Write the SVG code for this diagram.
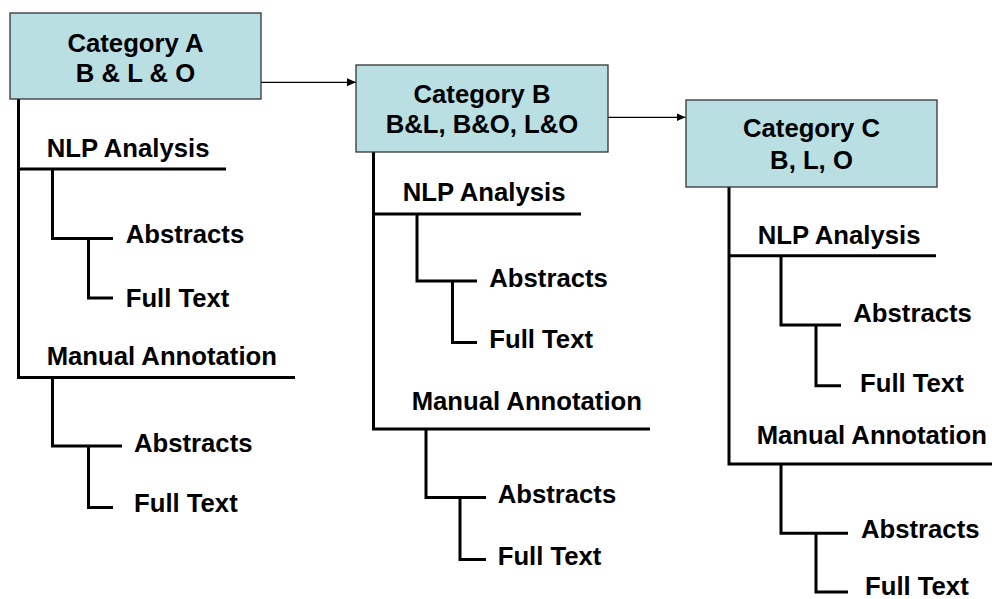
<svg xmlns="http://www.w3.org/2000/svg" width="992" height="599" viewBox="0 0 992 599">
<style>
.box{fill:#B9DFE3;stroke:#333;stroke-width:1.3}
.t{font-family:"Liberation Sans",Arial,sans-serif;font-weight:bold;font-size:25.7px;fill:#000}
.c{text-anchor:middle}
.tree{fill:none;stroke:#000;stroke-width:3;stroke-linejoin:miter}
.arr{fill:none;stroke:#000;stroke-width:1.2}
</style>
<defs>
<marker id="ah" markerWidth="10" markerHeight="9" refX="9" refY="4.5" orient="auto" markerUnits="userSpaceOnUse">
<path d="M0 0.5 L9 4.5 L0 8.5 Z" fill="#000"/>
</marker>
</defs>
<rect width="992" height="599" fill="#fff"/>
<g id="connectors">
<path class="arr" d="M261 82.3 H356" marker-end="url(#ah)"/>
<path class="arr" d="M608 117.3 H685.5" marker-end="url(#ah)"/>
<path class="tree" d="M18.5 99 V377.5 H295"/>
<path class="tree" d="M18.5 169 H226"/>
<path class="tree" d="M52.5 169 V238.5 H113"/>
<path class="tree" d="M88.5 238.5 V298 H113"/>
<path class="tree" d="M52.5 377.5 V446 H122"/>
<path class="tree" d="M88.5 446 V507.5 H113"/>
<path class="tree" d="M373.5 152 V429 H650"/>
<path class="tree" d="M373.5 214 H581"/>
<path class="tree" d="M417 214 V281 H477"/>
<path class="tree" d="M452.5 281 V342.5 H477"/>
<path class="tree" d="M426 429 V497.5 H486"/>
<path class="tree" d="M460 497.5 V559.5 H486"/>
<path class="tree" d="M729 187 V464 H992"/>
<path class="tree" d="M729 255.7 H936"/>
<path class="tree" d="M781 255.7 V325 H841"/>
<path class="tree" d="M816 325 V385.7 H841"/>
<path class="tree" d="M781 464 V533.3 H848"/>
<path class="tree" d="M816 533.3 V592 H848"/>
</g>
<g id="catA">
<rect class="box" x="10" y="13" width="251" height="86"/>
<text class="t c" x="135.5" y="52">Category A</text>
<text class="t c" x="135.5" y="82">B &amp; L &amp; O</text>
</g>
<g id="catB">
<rect class="box" x="356" y="65" width="252" height="87"/>
<text class="t c" x="482" y="102.7">Category B</text>
<text class="t c" x="482" y="132.7">B&amp;L, B&amp;O, L&amp;O</text>
</g>
<g id="catC">
<rect class="box" x="686" y="100" width="251" height="87"/>
<text class="t c" x="811.5" y="137.3">Category C</text>
<text class="t c" x="811.5" y="169">B, L, O</text>
</g>
<g id="A-nlp"><text class="t" x="46.7" y="156.7">NLP Analysis</text></g>
<g id="A-nlp-abs"><text class="t" x="125.7" y="243.3">Abstracts</text></g>
<g id="A-nlp-full"><text class="t" x="125.7" y="306.7">Full Text</text></g>
<g id="A-man"><text class="t" x="46.7" y="365">Manual Annotation</text></g>
<g id="A-man-abs"><text class="t" x="134" y="451.7">Abstracts</text></g>
<g id="A-man-full"><text class="t" x="134" y="511.7">Full Text</text></g>
<g id="B-nlp"><text class="t" x="402.7" y="200.7">NLP Analysis</text></g>
<g id="B-nlp-abs"><text class="t" x="489.3" y="286.7">Abstracts</text></g>
<g id="B-nlp-full"><text class="t" x="489.3" y="348.3">Full Text</text></g>
<g id="B-man"><text class="t" x="411.7" y="410">Manual Annotation</text></g>
<g id="B-man-abs"><text class="t" x="497.7" y="503.3">Abstracts</text></g>
<g id="B-man-full"><text class="t" x="497.7" y="565">Full Text</text></g>
<g id="C-nlp"><text class="t" x="757.7" y="244">NLP Analysis</text></g>
<g id="C-nlp-abs"><text class="t" x="853.3" y="321.7">Abstracts</text></g>
<g id="C-nlp-full"><text class="t" x="860" y="391.7">Full Text</text></g>
<g id="C-man"><text class="t" x="756.7" y="444.3">Manual Annotation</text></g>
<g id="C-man-abs"><text class="t" x="861" y="537.7">Abstracts</text></g>
<g id="C-man-full"><text class="t" x="865" y="595">Full Text</text></g>
</svg>
